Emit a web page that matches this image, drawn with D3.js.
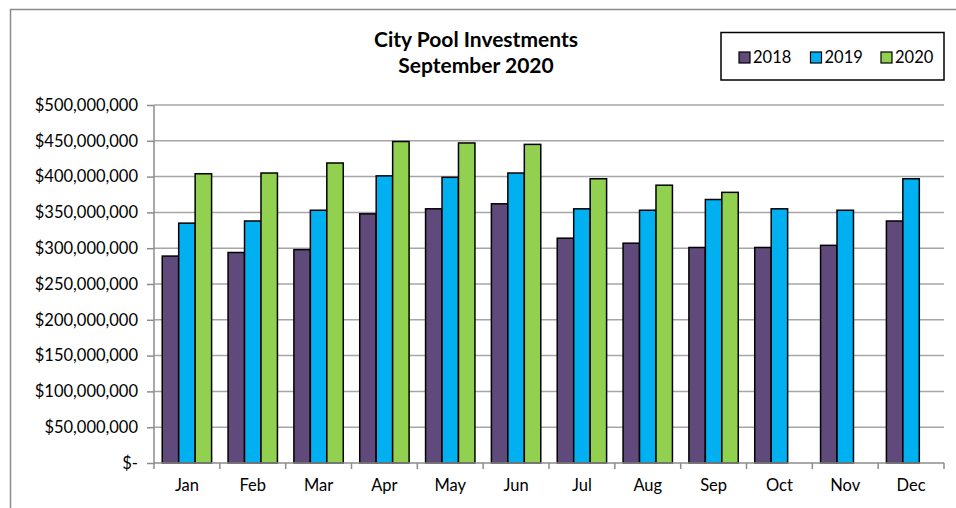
<!DOCTYPE html>
<html lang="en">
<head>
<meta charset="utf-8">
<title>City Pool Investments</title>
<script src="https://cdn.jsdelivr.net/npm/d3@7"></script>
<style>
  body { margin: 0; background: white; overflow: hidden; }
  svg { display: block; }
  text { font-family: Lato, "Open Sans", sans-serif; fill: #000; }
</style>
</head>
<body>
<script>

var months = ["Jan","Feb","Mar","Apr","May","Jun","Jul","Aug","Sep","Oct","Nov","Dec"];
var years = ["2018","2019","2020"];

// values in dollars
var v2018 = [289e6, 294e6, 298e6, 348e6, 355e6, 362e6, 314e6, 307e6, 301e6, 301e6, 304e6, 338e6];
var v2019 = [335e6, 338e6, 353e6, 401e6, 399e6, 405e6, 355e6, 353e6, 368e6, 355e6, 353e6, 397e6];
var v2020 = [404e6, 405e6, 419e6, 449e6, 447e6, 445e6, 397e6, 388e6, 378e6];

var yTicks = [0, 50e6, 100e6, 150e6, 200e6, 250e6, 300e6, 350e6, 400e6, 450e6, 500e6];
var colors = ["#604A7B", "#00B0F0", "#92D050"];

var w = 956, h = 508;
var margin = {top: 105, right: 12, bottom: 45, left: 154};
var innerWidth = 944 - margin.left;
var innerHeight = 463 - margin.top;

var series = [v2018, v2019, v2020];
var rows = [];
series.forEach(function(vals, s) {
  vals.forEach(function(v, i) {
    rows.push({month: months[i], year: years[s], value: v});
  });
});

var svg = d3.select("body").append("svg")
    .attr("width", w)
    .attr("height", h);

// outer chart border (top and left visible)
svg.append("path")
    .attr("d", "M10.5," + h + "V9.5H" + w)
    .attr("fill", "none")
    .attr("stroke", "#8c8c8c")
    .attr("stroke-width", 1.5);

var xScale = d3.scaleBand()
    .domain(months)
    .range([0, innerWidth])
    .padding(0);

var cw = xScale.bandwidth();
var x1 = d3.scaleBand()
    .domain(years)
    .range([cw / 8, cw * 7 / 8])
    .padding(0);

var yScale = d3.scaleLinear()
    .domain([0, 500e6])
    .range([innerHeight, 0]);

var g = svg.append("g")
    .attr("transform", `translate(${margin.left},${margin.top})`);

// gridlines
g.append("g")
    .selectAll("line")
    .data(yTicks.filter(d => d > 0))
    .enter().append("line")
    .attr("x1", 0)
    .attr("x2", innerWidth)
    .attr("y1", d => yScale(d))
    .attr("y2", d => yScale(d))
    .attr("stroke", "#a6a6a6")
    .attr("stroke-width", 1.5);

// bars
g.append("g")
    .selectAll("rect")
    .data(rows)
    .enter().append("rect")
    .attr("x", d => xScale(d.month) + x1(d.year))
    .attr("y", d => yScale(d.value))
    .attr("width", x1.bandwidth())
    .attr("height", d => innerHeight - yScale(d.value))
    .attr("fill", d => colors[years.indexOf(d.year)])
    .attr("stroke", "#000")
    .attr("stroke-width", 1.5);

// y axis
var fmt = d3.format(",");
var yAxis = d3.axisLeft(yScale)
    .tickValues(yTicks)
    .tickSize(7)
    .tickPadding(9)
    .tickFormat(d => d === 0 ? "$-" : "$" + fmt(d));

var ya = g.append("g").call(yAxis)
    .attr("font-size", 16.5)
    .attr("font-family", "Lato, sans-serif");

// x axis
var xAxis = d3.axisBottom(xScale)
    .tickSize(0)
    .tickPadding(16);

var xa = g.append("g")
    .attr("transform", `translate(0,${innerHeight})`)
    .call(xAxis)
    .attr("font-size", 16.5)
    .attr("font-family", "Lato, sans-serif");

// category boundary ticks
xa.selectAll("line.bound")
    .data(d3.range(months.length + 1))
    .enter().append("line")
    .attr("class", "bound")
    .attr("x1", i => i * cw)
    .attr("x2", i => i * cw)
    .attr("y1", 0)
    .attr("y2", 6)
    .attr("stroke", "#8c8c8c")
    .attr("stroke-width", 1.5);

svg.selectAll(".domain").attr("stroke", "#8c8c8c").attr("stroke-width", 1.5);
ya.selectAll(".tick line").attr("stroke", "#8c8c8c").attr("stroke-width", 1.5);
xa.select(".domain").attr("d", `M0,0H${innerWidth}`);
ya.select(".domain").attr("d", `M0,0V${innerHeight}`);

// title
svg.append("text")
    .attr("x", 476)
    .attr("y", 47)
    .attr("text-anchor", "middle")
    .attr("font-size", 21)
    .attr("font-weight", "bold")
    .text("City Pool Investments");

svg.append("text")
    .attr("x", 476)
    .attr("y", 73)
    .attr("text-anchor", "middle")
    .attr("font-size", 21)
    .attr("font-weight", "bold")
    .text("September 2020");

// legend
svg.append("rect")
    .attr("x", 721)
    .attr("y", 32.5)
    .attr("width", 223)
    .attr("height", 47.5)
    .attr("fill", "white")
    .attr("stroke", "#000")
    .attr("stroke-width", 1.5);

var legX = [739, 810.5, 881];
var leg = svg.append("g")
    .selectAll("g")
    .data(years)
    .enter().append("g")
    .attr("transform", (d, i) => `translate(${legX[i]},52)`);

leg.append("rect")
    .attr("width", 11)
    .attr("height", 11)
    .attr("fill", (d, i) => colors[i])
    .attr("stroke", "#000")
    .attr("stroke-width", 1.2);

leg.append("text")
    .attr("x", 14)
    .attr("y", 11)
    .attr("font-size", 16.5)
    .text(d => d);

</script>
</body>
</html>
